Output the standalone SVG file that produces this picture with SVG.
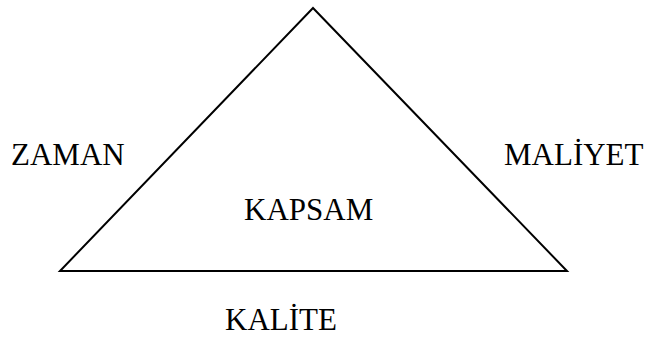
<svg xmlns="http://www.w3.org/2000/svg" width="649" height="338" viewBox="0 0 649 338">
<style>
text{font-family:"Liberation Serif","Times New Roman",serif;font-size:31px;fill:#000}
.tri{fill:none;stroke:#000;stroke-width:2}
</style>
<rect width="649" height="338" fill="#fff"/>
<g id="connectors">
<polygon id="triangle" class="tri" points="313,8 60,271 567,271"/>
</g>
<g id="zaman"><text x="11" y="165">ZAMAN</text></g>
<g id="maliyet"><text x="504" y="165">MALİYET</text></g>
<g id="kapsam"><text x="244" y="220">KAPSAM</text></g>
<g id="kalite"><text x="225" y="330">KALİTE</text></g>
</svg>
